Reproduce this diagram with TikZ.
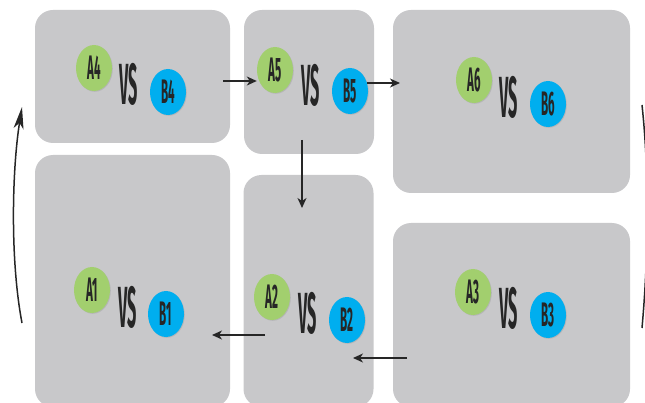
\documentclass[tikz,border=0pt]{standalone}
\usepackage{fontspec}
\setmainfont{Fira Sans}
\usetikzlibrary{arrows.meta,shapes.geometric,shadows}
\definecolor{boxgray}{HTML}{C8C8CA}
\definecolor{agreen}{HTML}{A2CF6E}
\definecolor{bblue}{HTML}{00AEEF}
\definecolor{ink}{HTML}{262626}
\tikzset{
  panel/.style={rectangle, rounded corners=18pt, fill=boxgray, inner sep=0pt, draw=none},
  team/.style={ellipse, minimum width=36pt, minimum height=46pt, inner sep=0pt,
     drop shadow={opacity=0.25, shadow xshift=0.8pt, shadow yshift=-0.8pt},
     font=\fontsize{34}{34}\selectfont\bfseries, text=ink},
  ta/.style={team, fill=agreen},
  tb/.style={team, fill=bblue},
  vs/.style={inner sep=0pt, font=\fontsize{58}{58}\selectfont\bfseries, text=ink},
  arr/.style={draw=ink, line width=1.3pt, -{Stealth[length=10pt,width=9pt,inset=3pt]}},
}
\newcommand{\sq}[2][0.34]{\scalebox{#1}[1]{#2}}
\begin{document}
\begin{tikzpicture}[x=1pt,y=-1pt]
\useasboundingbox (0,0) rectangle (645,403);
\clip (0,0) rectangle (645,403);
% panels
\node[panel, minimum width=195pt, minimum height=133pt] (p4) at (132.5,76.5) {};
\node[panel, minimum width=130pt, minimum height=144pt] (p5) at (309,82) {};
\node[panel, minimum width=237pt, minimum height=183pt] (p6) at (511.5,101.5) {};
\node[panel, minimum width=195pt, minimum height=252pt] (p1) at (132.5,281) {};
\node[panel, minimum width=130pt, minimum height=232pt] (p2) at (308.5,291) {};
\node[panel, minimum width=237pt, minimum height=184pt] (p3) at (511.5,315) {};
% teams
\node[ta] (a4) at (94,68) {\sq{A4}};
\node[vs] (v4) at (129,84) {\sq[0.28]{VS}};
\node[tb] (b4) at (168,92) {\sq{B4}};
\node[ta] (a5) at (275,70) {\sq{A5}};
\node[vs] (v5) at (311,85) {\sq[0.28]{VS}};
\node[tb] (b5) at (350,91) {\sq{B5}};
\node[ta] (a6) at (474,80) {\sq{A6}};
\node[vs] (v6) at (509,97) {\sq[0.28]{VS}};
\node[tb] (b6) at (548,104) {\sq{B6}};
\node[ta] (a1) at (92,290) {\sq{A1}};
\node[vs] (v1) at (128,307) {\sq[0.28]{VS}};
\node[tb] (b1) at (166,314) {\sq{B1}};
\node[ta] (a2) at (272,297) {\sq{A2}};
\node[vs] (v2) at (308,313) {\sq[0.28]{VS}};
\node[tb] (b2) at (347,320) {\sq{B2}};
\node[ta] (a3) at (473,292) {\sq{A3}};
\node[vs] (v3) at (509,308) {\sq[0.28]{VS}};
\node[tb] (b3) at (548,315) {\sq{B3}};
% connector ends
\coordinate (c45s) at (223,81);
\coordinate (c56s) at (367,83);
\coordinate (c56e) at (400,83);
\coordinate (c52s) at (302,140);
\coordinate (c52e) at (302,208);
\coordinate (c32s) at (407,358);
\coordinate (c32e) at (353,358);
\coordinate (c21s) at (265,335);
\coordinate (c21e) at (212,335);
\coordinate (c14s) at (22,323);
\coordinate (c14e) at (22,107);
\coordinate (r1) at (642,105);
\coordinate (r2) at (642,328);
% arrows
\draw[arr] (c45s) -- (a5.west |- c45s);
\draw[arr] (c56s) -- (c56e);
\draw[arr] (c52s) -- (c52e);
\draw[arr] (c32s) -- (c32e);
\draw[arr] (c21s) -- (c21e);
\draw[draw=ink, line width=1.5pt, -{Stealth[length=22pt,width=10pt,inset=6pt]}]
  (c14s) .. controls (10,260) and (12,170) .. (c14e);
\draw[draw=ink, line width=1.5pt] (r1) .. controls (649,170) and (649,250) .. (r2);
\end{tikzpicture}
\end{document}
